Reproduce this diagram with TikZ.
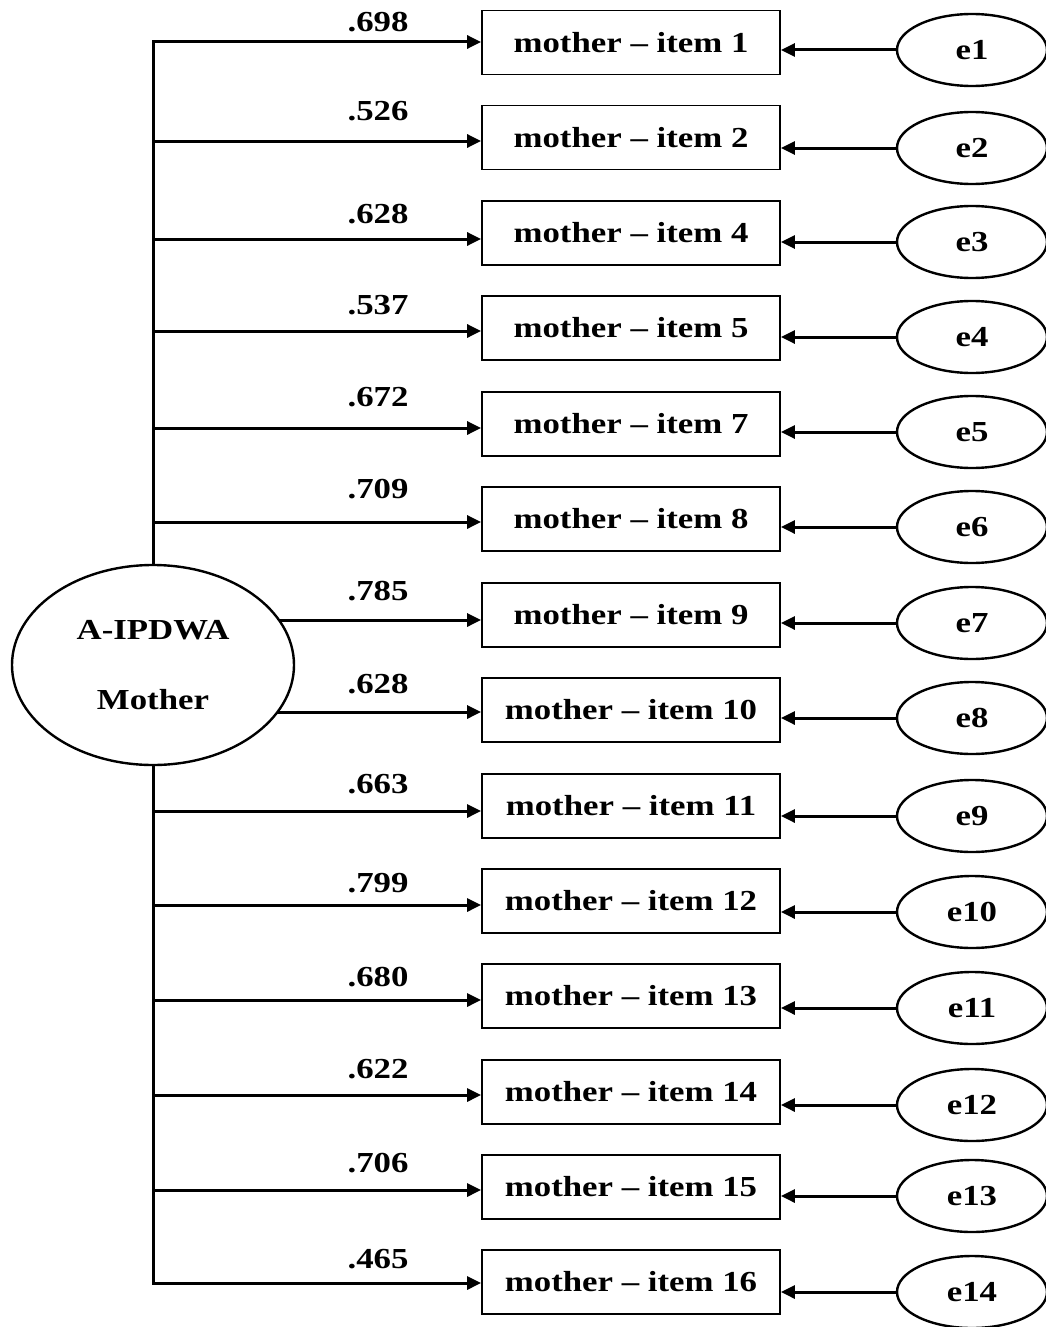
\documentclass[tikz,border=0pt]{standalone}
\usepackage{fontspec}
\setmainfont{Liberation Serif}[FakeStretch=1.2]
\usetikzlibrary{arrows.meta,shapes.geometric}
\newcommand\dfont{\fontsize{29}{35}\selectfont\bfseries}
\begin{document}
\begin{tikzpicture}[x=1pt,y=-1pt,
  itembox/.style={draw, line width=1.8pt, minimum width=298pt, minimum height=64pt, inner sep=0pt, font=\dfont},
  errnode/.style={draw, ellipse, line width=2.4pt, minimum width=150pt, minimum height=72pt, inner sep=0pt, font=\dfont},
  latent/.style={draw, ellipse, fill=white, line width=2.4pt, minimum width=282pt, minimum height=200pt, inner sep=0pt, align=center, font=\fontsize{29}{70}\selectfont\bfseries},
  arr/.style={line width=3pt, -{Triangle[length=14pt,width=13pt]}},
  trunk/.style={line width=3pt, line cap=rect},
  lbl/.style={inner sep=0pt, font=\dfont}
]
\useasboundingbox (0,0) rectangle (1045,1327);
\coordinate (ttop) at (153,42);
\coordinate (tbot) at (153,1283);
\draw[trunk] (ttop) -- (tbot);
\foreach \it/\ld/\by/\ay/\ly/\ey [count=\i] in {
  1/.698/42.5/42/22/50,
  2/.526/137.5/141/111/148,
  4/.628/233/239/214/242,
  5/.537/328/331/305/337,
  7/.672/424/428/397/432,
  8/.709/519/522/489/527,
  9/.785/615/620/591/623,
  10/.628/710/712/684/718,
  11/.663/806/811/784/816,
  12/.799/901/905/883/912,
  13/.680/996/1000/977/1008,
  14/.622/1092/1095/1069/1105,
  15/.706/1187/1190/1163/1196,
  16/.465/1282/1283/1259/1292} {
  \node[itembox] (b\i) at (631,\by) {mother -- item \it};
  \node[errnode] (e\i) at (972,\ey) {e\i};
  \coordinate (t\i) at (153,\ay);
  \draw[arr] (t\i) -- (b\i.west |- t\i);
  \draw[arr] (e\i.west) -- (b\i.east |- e\i.west);
  \node[lbl] (l\i) at (378,\ly) {\ld};
}
\node[latent] (lat) at (153,665) {A-IPDWA\\Mother};
\end{tikzpicture}
\end{document}
